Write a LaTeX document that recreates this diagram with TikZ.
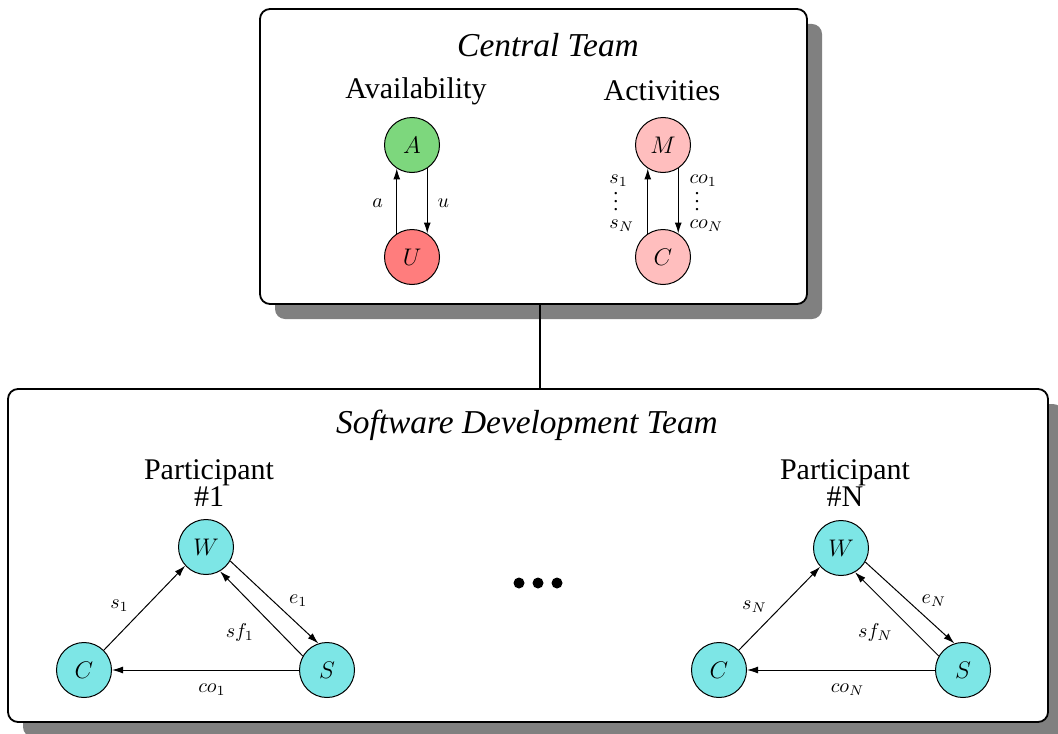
\documentclass[tikz,border=0pt]{standalone}
\usepackage{fontspec}
\setmainfont{Liberation Serif}
\usetikzlibrary{arrows.meta}
\definecolor{shadowgray}{RGB}{128,128,128}
\definecolor{availgreen}{RGB}{125,215,125}
\definecolor{unavred}{RGB}{255,125,125}
\definecolor{actpink}{RGB}{255,190,190}
\definecolor{partcyan}{RGB}{125,230,230}
\tikzset{
 box/.style={draw, line width=0.9pt, rounded corners=5pt, fill=white, inner sep=0pt},
 shadowbox/.style={fill=shadowgray, rounded corners=5pt, inner sep=0pt},
 state/.style={circle, draw, line width=0.5pt, minimum size=27.5pt, inner sep=0pt, font=\fontsize{12}{14}\selectfont},
 arr/.style={-{Latex[length=5.5pt,width=3.5pt]}, line width=0.5pt},
 lbl/.style={font=\fontsize{10}{12}\selectfont, inner sep=1pt},
 stack/.style={font=\fontsize{10}{11.25}\selectfont, inner sep=1pt, align=left},
 heading/.style={font=\fontsize{15}{13.5}\selectfont, align=center},
 title/.style={font=\fontsize{16.7}{19}\selectfont\itshape},
 bullet/.style={circle, fill=black, minimum size=5.5pt, inner sep=0pt},
}
\newcommand{\tightvdots}{\raisebox{-2.2pt}{\smash{$\vdots$}}}
\begin{document}
\begin{tikzpicture}[x=0.5pt,y=-0.5pt]
\useasboundingbox (0,0) rectangle (1058,733);
% boxes with shadows
\node[shadowbox, minimum width=273.5pt, minimum height=147.5pt] (topshadow) at (548.5,171.5) {};
\node[box, minimum width=273.5pt, minimum height=147.5pt] (top) at (533.5,156.5) {};
\node[shadowbox, minimum width=520pt, minimum height=166.5pt] (botshadow) at (543,570.5) {};
\node[box, minimum width=520pt, minimum height=166.5pt] (bot) at (528,555.5) {};
\coordinate (link) at (540,0);
\draw[line width=0.6pt] (top.south -| link) -- (bot.north -| link);
% central team
\node[title] (ctitle) at (548,45) {Central Team};
\node[heading] (avail) at (416,91) {Availability};
\node[heading] (activ) at (662,91) {Activities};
\node[state, fill=availgreen] (A) at (412,145) {$A$};
\node[state, fill=unavred] (U) at (412,257) {$U$};
\node[state, fill=actpink] (M) at (663,145) {$M$};
\node[state, fill=actpink] (Cc) at (663,257) {$C$};
\draw[arr] (U.123) -- node[lbl, xshift=-9.5pt, yshift=-1pt] {$a$} (A.237);
\draw[arr] (A.-57) -- node[lbl, xshift=8pt, yshift=-1pt] {$u$} (U.57);
\draw[arr] (Cc.123) -- node[stack, xshift=-13pt, yshift=-1pt] {$s_1$\\\hspace{2pt}\tightvdots\\$s_N$} (M.237);
\draw[arr] (M.-57) -- node[stack, xshift=14pt, yshift=-1pt] {$co_1$\\\hspace{2.5pt}\tightvdots\\$co_N$} (Cc.57);
% software development team
\node[title] (stitle) at (527,425) {Software Development Team};
\node[heading] (p1) at (209,483.5) {Participant\\\#1};
\node[heading] (pN) at (845,483.5) {Participant\\\#N};
\node[state, fill=partcyan] (W1) at (206,547) {$W$};
\node[state, fill=partcyan] (C1) at (84,670) {$C$};
\node[state, fill=partcyan] (S1) at (327,670) {$S$};
\draw[arr] (C1.45) -- node[lbl, xshift=-12.5pt, yshift=1pt] {$s_1$} (W1.222);
\draw[arr] (W1.-30) -- node[lbl, xshift=12pt, yshift=1pt] {$e_1$} (S1.108);
\draw[arr] (S1.150) -- node[lbl, xshift=-10.75pt, yshift=-9.25pt] {$sf_1$} (W1.-60);
\draw[arr] (S1.180) -- node[lbl, xshift=3.25pt, yshift=-10pt] {$co_1$} (C1.0);
\node[state, fill=partcyan] (WN) at (841,548) {$W$};
\node[state, fill=partcyan] (CN) at (719,670) {$C$};
\node[state, fill=partcyan] (SN) at (963,670) {$S$};
\draw[arr] (CN.45) -- node[lbl, xshift=-12.5pt, yshift=1pt] {$s_N$} (WN.222);
\draw[arr] (WN.-30) -- node[lbl, xshift=12pt, yshift=1pt] {$e_N$} (SN.108);
\draw[arr] (SN.150) -- node[lbl, xshift=-10.75pt, yshift=-9.25pt] {$sf_N$} (WN.-60);
\draw[arr] (SN.180) -- node[lbl, xshift=3.25pt, yshift=-10pt] {$co_N$} (CN.0);
\node[bullet] (dot1) at (519,583) {};
\node[bullet] (dot2) at (538,583) {};
\node[bullet] (dot3) at (557,583) {};
\end{tikzpicture}
\end{document}
